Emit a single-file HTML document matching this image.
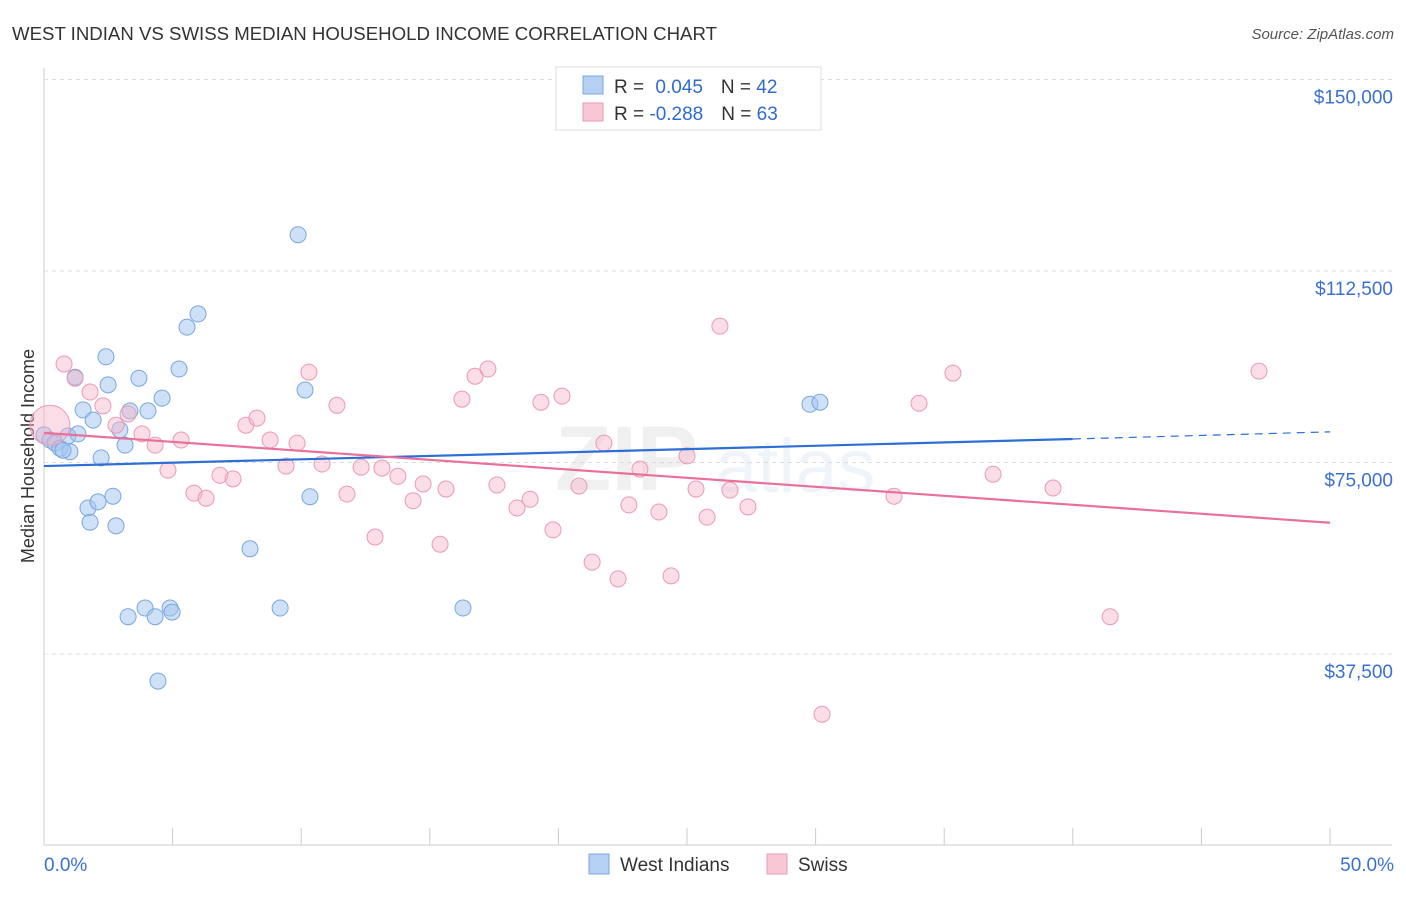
<!DOCTYPE html>
<html><head><meta charset="utf-8">
<style>
body{margin:0;background:#fff;font-family:"Liberation Sans",sans-serif;}
svg text{font-family:"Liberation Sans",sans-serif;}
</style></head>
<body>
<svg id="chart" width="1406" height="892">
<text x="12" y="40" font-size="18" fill="#333" textLength="705" lengthAdjust="spacingAndGlyphs">WEST INDIAN VS SWISS MEDIAN HOUSEHOLD INCOME CORRELATION CHART</text>
<text x="1394" y="39" font-size="15" fill="#555" font-style="italic" text-anchor="end">Source: ZipAtlas.com</text>
<text transform="translate(34,456) rotate(-90)" font-size="18" fill="#333" text-anchor="middle">Median Household Income</text>
<g id="grid"></g>
<g opacity="0.28">
<text x="555" y="490" font-size="92" font-family="Liberation Serif" fill="#ccc" font-weight="bold">ZIP</text>
<text x="715" y="492" font-size="76" fill="#c8d8ee">atlas</text>
</g>
<g id="points"></g>
<g id="lines"></g>
<g>
<rect x="556" y="67" width="265" height="63" fill="#fff" stroke="#ddd"/>
<rect x="583" y="76" width="20" height="18" fill="#b5d0f3" stroke="#7aa6e0"/>
<rect x="583" y="103" width="20" height="18" fill="#f8c6d5" stroke="#eb9ab3"/>
<text x="614" y="93" font-size="19" fill="#333">R = <tspan fill="#2f6bd0" dx="6">0.045</tspan><tspan dx="18">N = </tspan><tspan fill="#2f6bd0">42</tspan></text>
<text x="614" y="120" font-size="19" fill="#333">R = <tspan fill="#2f6bd0">-0.288</tspan><tspan dx="18">N = </tspan><tspan fill="#2f6bd0">63</tspan></text>
</g>
<g>
<rect x="589" y="854" width="20" height="20" fill="#b5d0f3" stroke="#7aa6e0"/>
<text x="620" y="871" font-size="19" fill="#333">West Indians</text>
<rect x="767" y="854" width="20" height="20" fill="#f8c6d5" stroke="#eb9ab3"/>
<text x="798" y="871" font-size="19" fill="#333">Swiss</text>
</g>
<text x="44" y="871" font-size="19" fill="#3a70d0">0.0%</text>
<text x="1394" y="871" font-size="19" fill="#3a70d0" text-anchor="end">50.0%</text>
</svg>
<script>
const yTicks=[37500,75000,112500,150000];
const yTickLabels=["$37,500","$75,000","$112,500","$150,000"];
const xTicks=[0,5,10,15,20,25,30,35,40,45,50];
const blueX=[0,0.23,0.43,0.62,0.93,1.01,1.32,1.52,1.91,1.71,1.79,2.10,2.22,2.41,2.49,2.68,2.80,3.15,3.27,3.34,3.69,3.93,4.04,4.32,4.43,4.59,4.90,4.98,5.25,5.56,5.99,8.01,9.18,9.88,10.15,10.34,16.29,29.78,30.17,1.21,0.74,2.95];
const blueY=[80.4,79.4,78.8,77.8,80.2,77.1,80.6,85.3,83.3,66.1,63.3,67.3,75.9,95.7,90.2,68.4,62.6,78.4,44.8,85.1,91.5,46.5,85.1,44.8,32.2,87.6,46.5,45.7,93.3,101.5,104.1,58.1,46.5,119.6,89.2,68.3,46.5,86.4,86.8,91.7,77.4,81.4];
const pinkX=[0.23,0.78,1.21,1.79,2.29,2.80,3.27,3.81,4.32,4.82,5.33,5.83,6.30,6.84,7.35,7.85,8.28,8.79,9.41,9.84,10.30,10.81,11.39,11.78,12.33,12.87,13.14,13.76,14.35,14.74,15.40,15.63,16.25,16.76,17.26,17.61,18.39,18.90,19.32,19.79,20.14,20.80,21.31,21.77,22.32,22.74,23.17,23.91,24.38,25.00,25.35,25.78,26.28,26.67,27.37,30.25,33.05,34.02,35.34,36.90,39.23,41.45,47.24];
const pinkY=[82.3,94.3,91.5,88.8,86.1,82.3,84.5,80.6,78.4,73.5,79.4,69.0,68.0,72.5,71.8,82.3,83.7,79.4,74.3,78.8,92.7,74.7,86.2,68.8,74.1,60.4,73.9,72.3,67.5,70.8,59.0,69.8,87.4,91.9,93.3,70.6,66.1,67.8,86.8,61.8,88.0,70.4,55.5,78.8,52.2,66.7,73.7,65.3,52.8,76.3,69.8,64.3,101.7,69.6,66.3,25.7,68.4,86.6,92.5,72.7,70.0,44.8,92.9];
const blueLine=[[0,74.3],[40,79.6]];
const blueDash=[[40,79.6],[50,81.0]];
const pinkLine=[[0,80.8],[50,63.2]];
const NS="http://www.w3.org/2000/svg";
const sx=p=>44+p/50*1286;
const sy=v=>845.5-v/37500*191.5;
function mk(tag,attrs,parent){const e=document.createElementNS(NS,tag);for(const k in attrs)e.setAttribute(k,attrs[k]);parent.appendChild(e);return e;}
const grid=document.getElementById('grid');
let a=mk('line',{x1:44,y1:68,x2:44,y2:845,stroke:'#ccc'},grid);


a=mk('line',{x1:44,y1:845,x2:1392,y2:845,stroke:'#ccc'},grid);


yTicks.forEach((v,i)=>{
 const y=sy(v);
 const g=mk('line',{x1:44,y1:y,x2:1392,y2:y,stroke:'#ddd','stroke-dasharray':'4,4'},grid);
 
 
 const t=mk('text',{x:1393,y:y+24,'font-size':19,fill:'#3a70d0','text-anchor':'end'},grid);
 t.textContent=yTickLabels[i];
 
 
});
xTicks.forEach(p=>{
 const x=sx(p);
 const t=mk('line',{x1:x,y1:828,x2:x,y2:845,stroke:'#ccc'},grid);
 
 
});
const pts=document.getElementById('points');
blueX.forEach((p,i)=>{
 const c=mk('circle',{cx:sx(p),cy:sy(blueY[i]*1000),r:8,fill:'rgba(160,195,240,0.5)',stroke:'#7aa6e0','stroke-width':1},pts);
 
 
});
pinkX.forEach((p,i)=>{
 const c=mk('circle',{cx:sx(p),cy:sy(pinkY[i]*1000),r:i===0?20:8,fill:'rgba(245,180,200,0.45)',stroke:'#eb9ab3','stroke-width':1},pts);
 
 
});
const lines=document.getElementById('lines');
function ln(d,attrs){return mk('line',Object.assign({x1:sx(d[0][0]),y1:sy(d[0][1]*1000),x2:sx(d[1][0]),y2:sy(d[1][1]*1000)},attrs),lines);}
let l1=ln(blueLine,{stroke:'#2d6fd6','stroke-width':2.2});


let l2=ln(blueDash,{stroke:'#2d6fd6','stroke-width':1.2,'stroke-dasharray':'8,6'});


let l3=ln(pinkLine,{stroke:'#e8709a','stroke-width':2.2});


</script>
</body></html>
